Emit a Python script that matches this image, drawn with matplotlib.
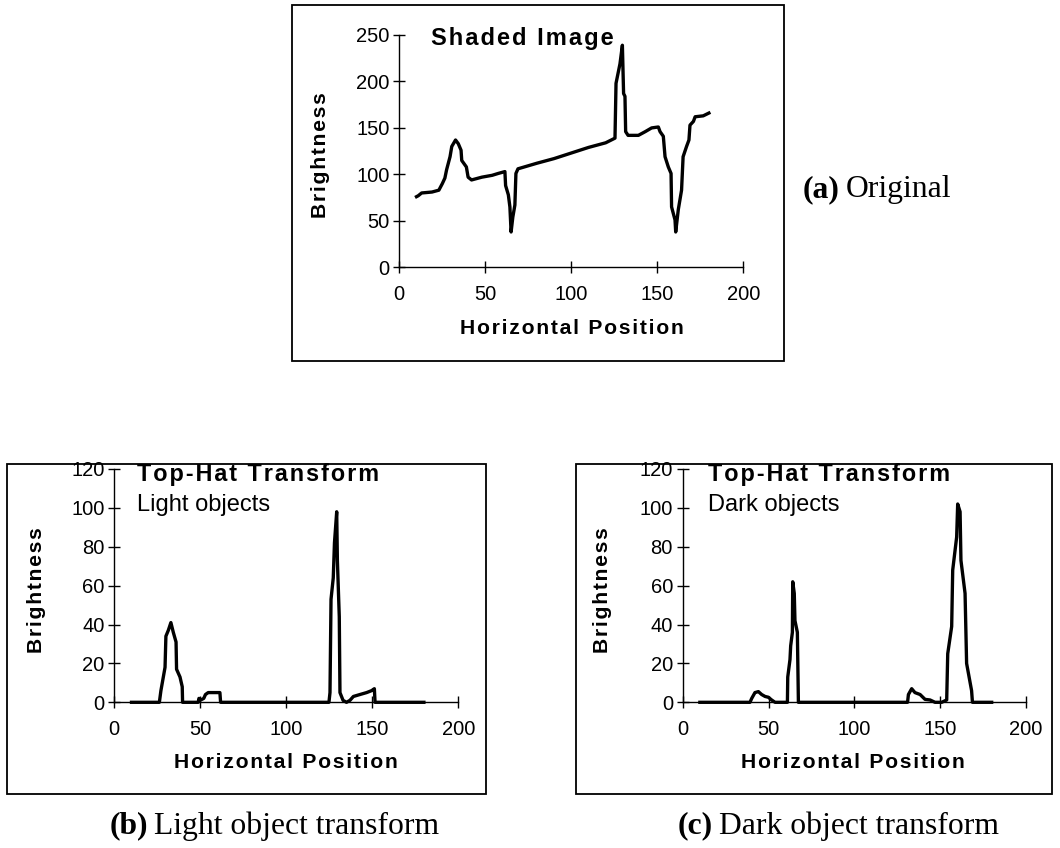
import numpy as np
import matplotlib
matplotlib.use('Agg')
import matplotlib.pyplot as plt
from matplotlib.patches import Rectangle

# shaded image profile (horizontal position, brightness)
orig_x = [10, 11, 13, 19, 23, 25, 26.5, 27.5, 29.5, 30.5, 32.7, 34.3, 35.9, 36.3, 39, 40,
          42, 48, 54, 57.5, 61.4, 61.8, 63.4, 64.3, 65, 66, 67.2, 67.8, 69, 80, 90, 100,
          110, 120, 125.4, 126, 128.3, 129.7, 130.4, 131.2, 131.6, 133, 139, 143, 146.7,
          150.6, 151.6, 153.5, 154.5, 156.4, 158, 158.3, 160.3, 160.7, 162.2, 164.1, 165,
          167, 168.4, 169, 171, 172, 176.7, 180]
orig_y = [76, 77, 80, 81, 83, 90, 96, 105, 119, 130, 137, 133, 126, 115, 108, 97,
          94, 97, 99, 101, 103, 88, 78, 65, 38, 54, 67, 101, 106, 112, 117, 123,
          129, 134, 139, 198, 219, 239, 187, 184, 146, 142, 142, 146, 150,
          151, 146, 141, 119, 108, 101, 65, 51, 38, 62, 83, 119,
          130, 137, 153, 157, 162, 163, 166]

# top-hat transform, light objects
light_x = [10, 26.2, 27.1, 27.5, 29.5, 30, 31.4, 32.9, 34.3, 35.9, 36.2, 38.2, 39.5, 39.7,
           48.8, 49.2, 49.8, 52, 53, 54.6, 61.4, 61.8, 124.8, 125.4, 126, 127.3, 128,
           129.3, 129.7, 130.8, 131.2, 133, 135, 137, 139, 142.8, 146.7, 149.6, 151.2,
           151.6, 180]
light_y = [0, 0, 6, 8, 18, 34, 37, 41, 36, 31, 17, 13, 8, 0,
           0, 2, 1, 2, 4, 5, 5, 0, 0, 5, 53, 64, 82,
           98, 73, 44, 5, 1, 0, 1, 3, 4, 5, 6, 7,
           0, 0]

# top-hat transform, dark objects
dark_x = [10, 39.2, 40.2, 42.1, 44.1, 46, 48, 49.9, 51.8, 53.8, 61, 61.2, 62.5, 62.9, 63.9,
          64.1, 65, 65.4, 66.8, 67.4, 131, 131.5, 133.4, 135.3, 138.3, 141.2, 144.1, 147,
          150.9, 153.8, 154.4, 156.7, 157.3, 159.6, 160.2, 161.6, 162.1, 164.5, 165.4,
          168.3, 168.8, 180]
dark_y = [0, 0, 2, 5, 5.5, 4, 3, 2.6, 1.2, 0, 0, 13, 22, 29, 36,
          62, 56, 42, 36, 0, 0, 4, 7, 5, 4, 1.5, 1.2, 0,
          0, 1.2, 25, 39, 68, 85, 102, 98, 73, 56, 20,
          6, 0, 0]

W, H = 1060, 848
SANS = ['Liberation Sans', 'DejaVu Sans']
SERIF = ['Liberation Serif', 'DejaVu Serif']


def px(x, y):
    return x / W, 1 - y / H


def spaced(s):
    # excel-style tracking on the bold chart labels
    return '\u200a'.join(s)


def style_axes(ax, ymax, ystep):
    ax.set_xlim(0, 200)
    ax.set_ylim(0, ymax)
    ax.set_xticks(np.arange(0, 201, 50))
    ax.set_yticks(np.arange(0, ymax + 1, ystep))
    ax.spines['top'].set_visible(False)
    ax.spines['right'].set_visible(False)
    for sp in ('left', 'bottom'):
        ax.spines[sp].set_linewidth(1.0)
    ax.tick_params(direction='inout', length=9, width=1.0, labelsize=14.5)
    ax.tick_params(axis='x', pad=8)
    ax.tick_params(axis='y', pad=2.5)
    for lab in ax.get_xticklabels() + ax.get_yticklabels():
        lab.set_family(SANS)
    ax.patch.set_alpha(0)


fig = plt.figure(figsize=(W / 100, H / 100), dpi=100)

# frames round each chart
for (x0, y0, x1, y1) in [(292, 5, 784, 361), (7, 464, 486, 794), (576, 464, 1052, 794)]:
    fig.add_artist(Rectangle(px(x0, y1), (x1 - x0) / W, (y1 - y0) / H,
                             transform=fig.transFigure, fill=False,
                             edgecolor='black', linewidth=1.3))

# (a) original
ax1 = fig.add_axes([399.3 / W, 1 - 267.3 / H, 344 / W, 232.3 / H])
ax1.plot(orig_x, orig_y, color='black', linewidth=2.4, clip_on=False)
style_axes(ax1, 250, 50)

# (b) light objects
ax2 = fig.add_axes([114.3 / W, 1 - 702.3 / H, 344 / W, 233.3 / H])
ax2.plot(light_x, light_y, color='black', linewidth=2.4, clip_on=False)
style_axes(ax2, 120, 20)

# (c) dark objects
ax3 = fig.add_axes([682.7 / W, 1 - 702.3 / H, 343.3 / W, 233.3 / H])
ax3.plot(dark_x, dark_y, color='black', linewidth=2.4, clip_on=False)
style_axes(ax3, 120, 20)

# axis labels
for (xl, yl), (xb, yb) in [((572, 328), (320, 155)), ((286, 763), (36, 590)), ((853, 763), (603, 590))]:
    fig.text(*px(xl, yl), spaced('Horizontal Position'), family=SANS, weight='bold',
             fontsize=15.2, ha='center', va='center')
    fig.text(*px(xb, yb), spaced('Brightness'), family=SANS, weight='bold',
             fontsize=15.2, ha='center', va='center', rotation=90)

# chart titles
fig.text(*px(431, 38), spaced('Shaded Image'), family=SANS, weight='bold',
         fontsize=17, ha='left', va='center')
fig.text(*px(136.7, 475), spaced('Top-Hat Transform'), family=SANS, weight='bold',
         fontsize=16.8, ha='left', va='center')
fig.text(*px(136.7, 505), 'Light objects', family=SANS, fontsize=17, ha='left', va='center')
fig.text(*px(708.3, 475), spaced('Top-Hat Transform'), family=SANS, weight='bold',
         fontsize=16.8, ha='left', va='center')
fig.text(*px(708.3, 505), 'Dark objects', family=SANS, fontsize=17, ha='left', va='center')

# captions
def caption(x, y, tag, rest):
    t = fig.text(*px(x, y), tag, family=SERIF, weight='bold', fontsize=22.8,
                 ha='left', va='center')
    fig.canvas.draw()
    bb = t.get_window_extent()
    fig.text(bb.x1 / W + 6 / W, px(x, y)[1], rest, family=SERIF, fontsize=22.8,
             ha='left', va='center')

caption(803, 190, '(a)', 'Original')
caption(110, 826, '(b)', 'Light object transform')
caption(678, 826, '(c)', 'Dark object transform')

fig.savefig('out.png', dpi=100)
